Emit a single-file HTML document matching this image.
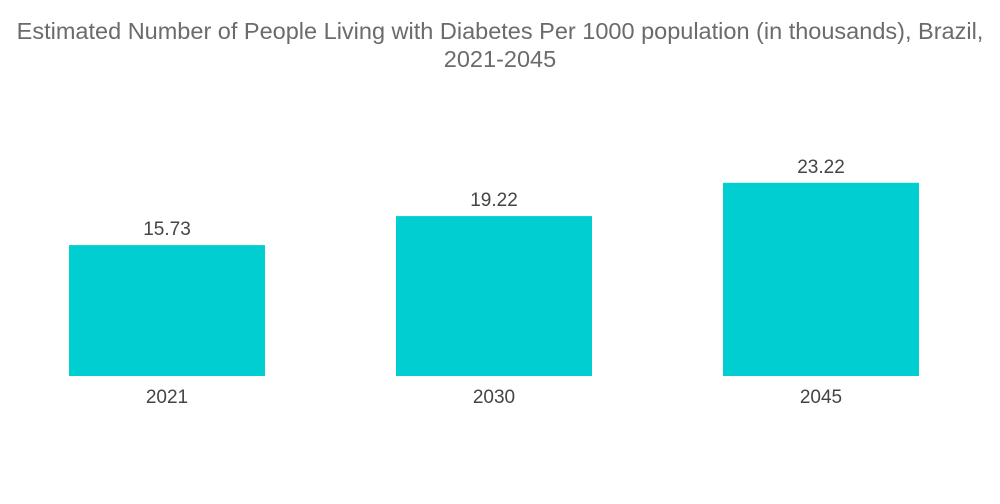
<!DOCTYPE html>
<html><head><meta charset="utf-8">
<style>
body{margin:0;background:#fff;width:1000px;height:504px;overflow:hidden;font-family:"Liberation Sans",sans-serif;}
#title{position:absolute;left:-50px;top:17px;width:1100px;text-align:center;color:#6b6b6b;font-size:23.5px;line-height:28px;}
</style></head>
<body>
<div id="title">Estimated Number of People Living with Diabetes Per 1000 population (in thousands), Brazil,<br>2021-2045</div>
<svg id="chart" width="1000" height="504" style="position:absolute;left:0;top:0"></svg>
<script>
const categories = ["2021","2030","2045"];
const values = [15.73, 19.22, 23.22];
const labels = ["15.73","19.22","23.22"];
const svg = document.getElementById('chart');
const NS = 'http://www.w3.org/2000/svg';
const baseY = 376, pxPerUnit = 8.32;
const y = v => baseY - v * pxPerUnit;
const x = i => 69 + i * 327;
const bw = 196;
categories.forEach((c, i) => {
  const r = document.createElementNS(NS, 'rect');
  r.setAttribute('x', x(i)); r.setAttribute('y', y(values[i]));
  r.setAttribute('width', bw); r.setAttribute('height', baseY - y(values[i]));
  r.setAttribute('fill', '#00CED1');
  
  
  svg.appendChild(r);
  const t = document.createElementNS(NS, 'text');
  t.setAttribute('x', x(i) + bw / 2); t.setAttribute('y', y(values[i]) - 10);
  t.setAttribute('text-anchor', 'middle'); t.setAttribute('font-size', '19');
  t.setAttribute('fill', '#444'); t.textContent = labels[i];
  
  
  svg.appendChild(t);
  const l = document.createElementNS(NS, 'text');
  l.setAttribute('x', x(i) + bw / 2); l.setAttribute('y', 403);
  l.setAttribute('text-anchor', 'middle'); l.setAttribute('font-size', '19');
  l.setAttribute('fill', '#444'); l.textContent = c;
  
  
  svg.appendChild(l);
});
</script>
</body></html>
